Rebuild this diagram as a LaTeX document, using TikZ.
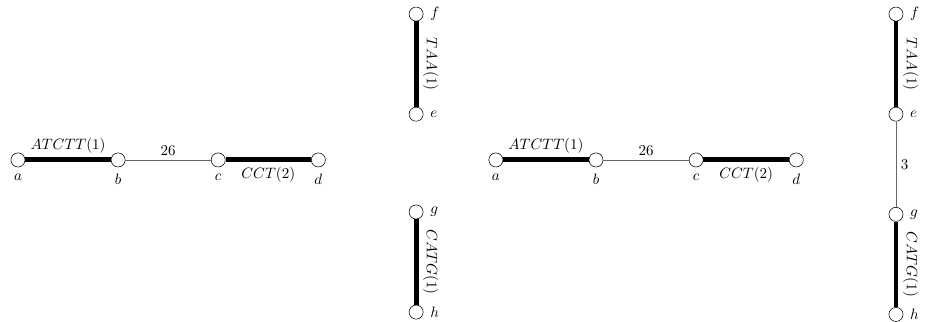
\documentclass[tikz,border=0pt]{standalone}
\usepackage{amsmath, amssymb}
\usetikzlibrary{positioning}

\tikzset{
    site/.style={circle, draw, minimum size=0.36cm, inner sep=0pt},
    motif/.style={line width=3.6pt},
    gap/.style={draw=gray!80!black, line width=0.5pt},
}

\begin{document}
\begin{tikzpicture}[auto, on grid, node distance=2.56cm, label distance=1.5pt,
        every node/.append style={font=\fontsize{10.5}{12.6}\selectfont}]
    \useasboundingbox (0,0) rectangle (23.78,-8.23);

    % before merging
    \node[site, label=below:$a$] (a1) at (0.46,-4.09) {};
    \node[site, label=below:$b$] (b1) [right=of a1] {};
    \node[site, label=below:$c$] (c1) [right=of b1] {};
    \node[site, label=below:$d$] (d1) [right=of c1] {};
    \node[site, label=right:$f$] (f1) at (10.64,-0.36) {};
    \node[site, label=right:$e$] (e1) [below=of f1] {};
    \node[site, label=right:$g$] (g1) at (10.64,-5.42) {};
    \node[site, label=right:$h$] (h1) [below=of g1] {};

    \path
        (a1) edge[motif] node{$ATCTT(1)$} (b1)
        (b1) edge[gap] node{$26$} (c1)
        (c1) edge[motif] node[swap]{$CCT(2)$} (d1)
        (f1) edge[motif] node[sloped]{$TAA(1)$} (e1)
        (g1) edge[motif] node[sloped]{$CATG(1)$} (h1);

    % after merging
    \node[site, label=below:$a$] (a2) at (12.68,-4.09) {};
    \node[site, label=below:$b$] (b2) [right=of a2] {};
    \node[site, label=below:$c$] (c2) [right=of b2] {};
    \node[site, label=below:$d$] (d2) [right=of c2] {};
    \node[site, label=right:$f$] (f2) at (22.91,-0.36) {};
    \node[site, label=right:$e$] (e2) [below=of f2] {};
    \node[site, label=right:$g$] (g2) [below=of e2] {};
    \node[site, label=right:$h$] (h2) [below=of g2] {};

    \path
        (a2) edge[motif] node{$ATCTT(1)$} (b2)
        (b2) edge[gap] node{$26$} (c2)
        (c2) edge[motif] node[swap]{$CCT(2)$} (d2)
        (f2) edge[motif] node[sloped]{$TAA(1)$} (e2)
        (e2) edge[gap] node{$3$} (g2)
        (g2) edge[motif] node[sloped]{$CATG(1)$} (h2);
\end{tikzpicture}
\end{document}
